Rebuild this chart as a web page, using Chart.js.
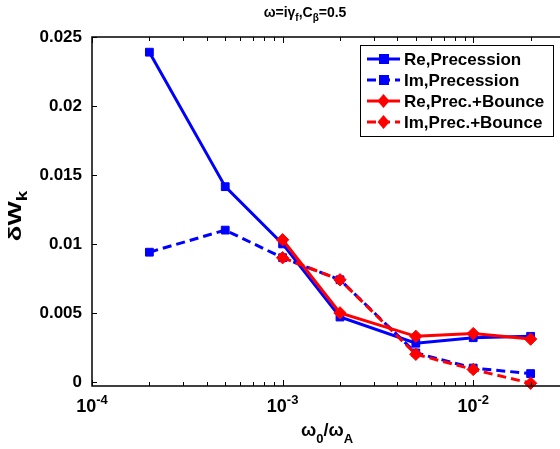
<!DOCTYPE html>
<html lang="en">
<head>
<meta charset="UTF-8">
<title>dWk vs omega0/omegaA</title>
<script src="https://cdn.jsdelivr.net/npm/chart.js"></script>
<style>
  body { margin: 0; background: #fff; }
</style>
</head>
<body>
<canvas id="myChart" width="560" height="449"></canvas>
<script>
// values
const xValues = [2e-4, 5e-4, 1e-3, 2e-3, 5e-3, 1e-2, 2e-2];
const rePrecession = [0.0239, 0.01415, 0.0100, 0.0047, 0.0028, 0.0032, 0.0033];
const imPrecession = [0.0094, 0.0110, 0.0090, 0.0074, 0.0021, 0.0010, 0.0006];
const reBounce = [null, null, 0.0103, 0.0050, 0.0033, 0.0035, 0.0031];
const imBounce = [null, null, 0.0090, 0.0074, 0.0020, 0.0009, -0.0001];
const seriesLabels = ['Re,Precession', 'Im,Precession', 'Re,Prec.+Bounce', 'Im,Prec.+Bounce'];
const yTicks = [0, 0.005, 0.01, 0.015, 0.02, 0.025];
const yTickLabels = ['0', '0.005', '0.01', '0.015', '0.02', '0.025'];
const xDecades = [1e-4, 1e-3, 1e-2];
const xExponents = ['-4', '-3', '-2'];

const FONT = '"Liberation Sans", Arial, sans-serif';
const BLUE = '#0000ff';
const RED = '#ff0000';

function toPoints(ys) {
    return xValues.map((x, i) => ({ x: x, y: ys[i] })).filter(p => p.y !== null);
}

function mkSet(label, ys, color, dashed, marker, order) {
    return {
        label: label,
        data: toPoints(ys),
        borderColor: color,
        backgroundColor: color,
        borderWidth: 3,
        borderDash: dashed ? [9, 5] : [],
        pointStyle: marker,
        pointRadius: marker === 'rect' ? 5.5 : 6.2,
        pointBorderWidth: 1,
        pointBorderColor: color,
        pointBackgroundColor: color,
        tension: 0,
        clip: false,
        order: order
    };
}

// text with sub/superscripts, parts = [text, size, dy]
function drawRich(ctx, parts, x, y, align) {
    let total = 0;
    parts.forEach(p => { ctx.font = 'bold ' + p[1] + 'px ' + FONT; total += ctx.measureText(p[0]).width; });
    let cx = align === 'center' ? x - total / 2 : x;
    ctx.textAlign = 'left';
    ctx.textBaseline = 'alphabetic';
    parts.forEach(p => {
        ctx.font = 'bold ' + p[1] + 'px ' + FONT;
        ctx.fillText(p[0], cx, y + p[2]);
        cx += ctx.measureText(p[0]).width;
    });
}

const matlabAxes = {
    id: 'matlabAxes',
    afterDraw(chart) {
        const { ctx, chartArea: a, scales } = chart;
        const xs = scales.x, ys = scales.y;
        const edge = chart.width;
        ctx.save();
        ctx.strokeStyle = '#000';
        ctx.fillStyle = '#000';
        ctx.lineWidth = 1.5;
        ctx.setLineDash([]);

        // box: left, bottom, top (the right side is cut off in the figure)
        ctx.beginPath();
        ctx.moveTo(edge, a.top); ctx.lineTo(a.left, a.top);
        ctx.lineTo(a.left, a.bottom); ctx.lineTo(edge, a.bottom);
        ctx.stroke();

        // inward ticks
        ctx.lineWidth = 1;
        ctx.beginPath();
        yTicks.forEach(v => {
            const py = Math.round(ys.getPixelForValue(v)) + 0.5;
            ctx.moveTo(a.left, py); ctx.lineTo(a.left + 5, py);
        });
        for (let d = 1e-4; d < 1; d *= 10) {
            for (let k = 1; k < 10; k++) {
                const px = Math.round(xs.getPixelForValue(d * k)) + 0.5;
                if (px > edge) break;
                const len = k === 1 ? 6 : 4;
                ctx.moveTo(px, a.bottom); ctx.lineTo(px, a.bottom - len);
                ctx.moveTo(px, a.top); ctx.lineTo(px, a.top + len);
            }
        }
        ctx.stroke();

        // x tick labels
        xDecades.forEach((v, i) => {
            drawRich(ctx, [['10', 18, 0], [xExponents[i], 13, -8]], xs.getPixelForValue(v), 412, 'center');
        });

        // title
        drawRich(ctx, [['\u03c9=i\u03b3', 14, 0], ['f', 10, 4], [',C', 14, 0], ['\u03b2', 10, 4], ['=0.5', 14, 0]], 305, 17, 'center');

        // x label
        drawRich(ctx, [['\u03c9', 18, 0], ['0', 13, 7], ['/\u03c9', 18, 0], ['A', 13, 7]], 327, 436, 'center');

        // y label
        ctx.save();
        ctx.translate(21, 216);
        ctx.rotate(-Math.PI / 2);
        ctx.scale(1.35, 1);
        drawRich(ctx, [['\u03b4W', 19, 0], ['k', 14, 6]], 0, 0, 'center');
        ctx.restore();

        // legend
        const lx = 360, ly = 45, lw = 193, lh = 91;
        ctx.fillStyle = '#fff';
        ctx.fillRect(lx, ly, lw, lh);
        ctx.strokeStyle = '#000';
        ctx.lineWidth = 1;
        ctx.strokeRect(lx + 0.5, ly + 0.5, lw, lh);
        chart.data.datasets.forEach((ds, i) => {
            const ry = 59 + i * 21;
            ctx.strokeStyle = ds.borderColor;
            ctx.fillStyle = ds.borderColor;
            ctx.lineWidth = 3;
            ctx.setLineDash(ds.borderDash);
            ctx.beginPath();
            ctx.moveTo(367, ry); ctx.lineTo(400, ry);
            ctx.stroke();
            ctx.setLineDash([]);
            ctx.beginPath();
            if (ds.pointStyle === 'rect') {
                ctx.rect(379, ry - 5, 10, 10);
            } else {
                ctx.moveTo(383.5, ry - 7); ctx.lineTo(389.5, ry);
                ctx.lineTo(383.5, ry + 7); ctx.lineTo(377.5, ry);
                ctx.closePath();
            }
            ctx.fill();
            ctx.fillStyle = '#000';
            ctx.font = 'bold 17px ' + FONT;
            ctx.textAlign = 'left';
            ctx.textBaseline = 'middle';
            ctx.fillText(seriesLabels[i], 404, ry + 1);
        });
        ctx.restore();
    }
};

const ctx = document.getElementById('myChart').getContext('2d');
const myChart = new Chart(ctx, {
    type: 'line',
    data: {
        datasets: [
            mkSet(seriesLabels[0], rePrecession, BLUE, false, 'rect', 4),
            mkSet(seriesLabels[1], imPrecession, BLUE, true, 'rect', 3),
            mkSet(seriesLabels[2], reBounce, RED, false, 'rectRot', 2),
            mkSet(seriesLabels[3], imBounce, RED, true, 'rectRot', 1)
        ]
    },
    options: {
        responsive: false,
        animation: false,
        layout: { padding: { top: 37, right: 0, bottom: 0, left: 0 } },
        plugins: {
            legend: { display: false },
            tooltip: { enabled: false },
            title: { display: false }
        },
        scales: {
            x: {
                type: 'logarithmic',
                min: 1e-4,
                max: 0.02615,
                grid: { display: false, drawTicks: false },
                border: { display: false },
                ticks: { display: false },
                afterFit: (s) => { s.height = 63; }
            },
            y: {
                type: 'linear',
                min: -0.0003,
                max: 0.025,
                grid: { display: false, drawTicks: false },
                border: { display: false },
                afterBuildTicks: (s) => { s.ticks = yTicks.map(v => ({ value: v })); },
                ticks: {
                    padding: 10,
                    color: '#000',
                    font: { family: FONT, size: 17, weight: 'bold' },
                    callback: (v) => yTickLabels[yTicks.indexOf(v)]
                },
                afterFit: (s) => { s.width = 92; }
            }
        }
    },
    plugins: [matlabAxes]
});
</script>
</body>
</html>
